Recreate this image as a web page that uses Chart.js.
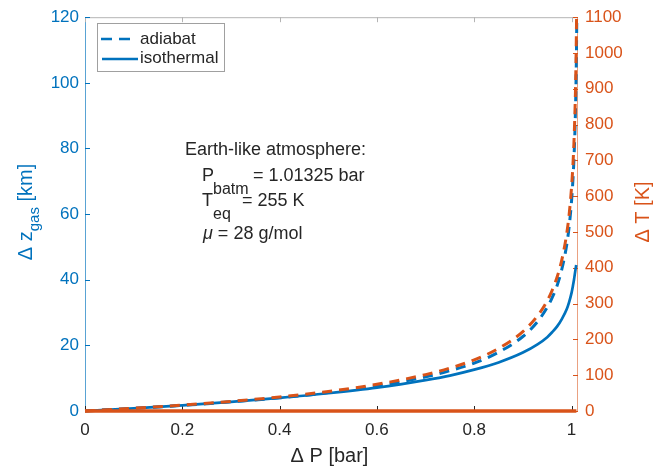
<!DOCTYPE html>
<html><head><meta charset="utf-8">
<script src="https://cdn.jsdelivr.net/npm/chart.js@4.4.1/dist/chart.umd.min.js"></script>
<style>html,body{margin:0;padding:0;background:#fff;}canvas{display:block;}</style>
</head><body>
<canvas id="c" width="668" height="468"></canvas>
<script>
// ---- data ----
const dP      = [0, 0.1, 0.2, 0.3, 0.4, 0.5, 0.6, 0.7, 0.75, 0.8, 0.85, 0.9, 0.93, 0.95, 0.96, 0.97, 0.98, 0.99, 0.995, 1.0, 1.003, 1.005, 1.008, 1.0096];
const zIso    = [0, 0.8, 1.7, 2.8, 4.0, 5.4, 7.1, 9.4, 10.8, 12.6, 14.8, 17.8, 20.3, 22.5, 24.0, 25.7, 28.0, 31.0, 33.2, 36.0, 38.3, 40.0, 43.0, 44.5];
const dPAdiZ  = [0, 0.1, 0.2, 0.3, 0.4, 0.5, 0.6, 0.7, 0.75, 0.8, 0.85, 0.9, 0.93, 0.95, 0.96, 0.97, 0.98, 0.99, 0.995, 1.0, 1.003, 1.005, 1.008, 1.01, 1.0108];
const zAdi    = [0, 0.8, 1.7, 2.8, 4.0, 5.6, 7.6, 10.4, 12.3, 14.6, 17.9, 22.7, 27.2, 31.6, 34.5, 38.1, 43.2, 50.6, 56.1, 64.0, 70.9, 77.1, 91.3, 108.5, 120];
const dPAdiT  = [0, 0.1, 0.2, 0.3, 0.4, 0.5, 0.6, 0.7, 0.75, 0.8, 0.85, 0.9, 0.93, 0.95, 0.96, 0.97, 0.98, 0.99, 0.995, 1.0, 1.003, 1.005, 1.008, 1.01, 1.0103];
const TAdi    = [0, 7.7, 16.5, 26.9, 39.3, 54.7, 74.5, 101.6, 119.8, 143, 174.7, 221.8, 265.8, 308, 336.7, 372.8, 422, 495, 548, 625, 692, 753, 892, 1060, 1100];
const dPIsoT  = [0, 1.01];
const TIso    = [0, 0];
const xTicks  = [0, 0.2, 0.4, 0.6, 0.8, 1];
const xTickLabels = ['0', '0.2', '0.4', '0.6', '0.8', '1'];
const zTicks  = [0, 20, 40, 60, 80, 100, 120];
const TTicks  = [0, 100, 200, 300, 400, 500, 600, 700, 800, 900, 1000, 1100];
const legendLabels = ['adiabat', 'isothermal'];

const BLUE = '#0072BD', ORANGE = '#D95319', DARK = '#262626';
const FONT = '"Liberation Sans", Arial, Helvetica, sans-serif';
const DASH = [10, 7];

function pts(xs, ys) { return xs.map((x, i) => ({ x: x, y: ys[i] })); }

function seg(ctx, x1, y1, x2, y2) { ctx.beginPath(); ctx.moveTo(x1, y1); ctx.lineTo(x2, y2); ctx.stroke(); }

const decor = {
  id: 'decor',
  beforeDatasetsDraw(chart) {
    const { ctx, chartArea: a, scales } = chart;
    ctx.save();
    ctx.lineWidth = 1;
    ctx.strokeStyle = '#b4b4b4';
    seg(ctx, a.left, a.top + 0.5, a.right, a.top + 0.5);
    ctx.strokeStyle = DARK;
    seg(ctx, a.left, a.bottom + 0.5, a.right, a.bottom + 0.5);
    ctx.strokeStyle = 'rgba(0,114,189,0.65)';
    seg(ctx, a.left + 0.5, a.top, a.left + 0.5, a.bottom);
    ctx.strokeStyle = 'rgba(217,83,25,0.55)';
    seg(ctx, a.right - 0.5, a.top, a.right - 0.5, a.bottom);
    const TL = 5;
    xTicks.forEach(v => {
      const px = Math.round(scales.x.getPixelForValue(v)) + 0.5;
      ctx.strokeStyle = DARK; seg(ctx, px, a.bottom, px, a.bottom - TL);
      ctx.strokeStyle = '#b4b4b4'; seg(ctx, px, a.top, px, a.top + TL);
    });
    ctx.strokeStyle = BLUE;
    zTicks.forEach(v => {
      const py = Math.round(scales.y.getPixelForValue(v)) + 0.5;
      seg(ctx, a.left, py, a.left + TL, py);
    });
    ctx.strokeStyle = ORANGE;
    TTicks.forEach(v => {
      const py = Math.round(scales.y2.getPixelForValue(v)) + 0.5;
      seg(ctx, a.right, py, a.right - TL, py);
    });
    ctx.restore();
  },
  afterDraw(chart) {
    const { ctx, chartArea: a } = chart;
    ctx.save();
    ctx.fillStyle = DARK;
    ctx.font = '20px ' + FONT;
    ctx.textAlign = 'center';
    ctx.textBaseline = 'middle';
    ctx.fillText('\u0394 P [bar]', (a.left + a.right) / 2 - 2, 456);

    ctx.save();
    ctx.translate(26, 212);
    ctx.rotate(-Math.PI / 2);
    ctx.fillStyle = BLUE;
    ctx.textAlign = 'left';
    ctx.textBaseline = 'middle';
    const big = '20px ' + FONT, small = '15px ' + FONT;
    ctx.font = big; const w1 = ctx.measureText('\u0394 z').width;
    ctx.font = small; const w2 = ctx.measureText('gas').width;
    ctx.font = big; const w3 = ctx.measureText(' [km]').width;
    let sx = -(w1 + w2 + w3) / 2;
    ctx.font = big; ctx.fillText('\u0394 z', sx, 0); sx += w1;
    ctx.font = small; ctx.fillText('gas', sx, 9); sx += w2;
    ctx.font = big; ctx.fillText(' [km]', sx, 0);
    ctx.restore();

    ctx.save();
    ctx.translate(643, 212);
    ctx.rotate(-Math.PI / 2);
    ctx.fillStyle = ORANGE;
    ctx.font = '20px ' + FONT;
    ctx.textAlign = 'center';
    ctx.textBaseline = 'middle';
    ctx.fillText('\u0394 T [K]', 0, 0);
    ctx.restore();

    ctx.fillStyle = '#fff';
    ctx.fillRect(97, 23, 127, 48);
    ctx.strokeStyle = '#a0a0a0';
    ctx.lineWidth = 1;
    ctx.strokeRect(97.5, 23.5, 127, 48);
    ctx.strokeStyle = BLUE;
    ctx.lineWidth = 2.7;
    ctx.setLineDash([11, 7]);
    seg(ctx, 101, 39, 130, 39);
    ctx.setLineDash([]);
    seg(ctx, 102, 59, 138, 59);
    ctx.fillStyle = DARK;
    ctx.font = '17px ' + FONT;
    ctx.textAlign = 'left';
    ctx.textBaseline = 'middle';
    ctx.fillText(legendLabels[0], 140, 39);
    ctx.fillText(legendLabels[1], 140, 58);

    ctx.textBaseline = 'alphabetic';
    ctx.font = '18px ' + FONT;
    ctx.fillText('Earth-like atmosphere:', 185, 155);
    ctx.fillText('P', 202, 181);
    ctx.font = '16px ' + FONT;
    ctx.fillText('batm', 213, 194);
    ctx.font = '18px ' + FONT;
    ctx.fillText('= 1.01325 bar', 253, 181);
    ctx.fillText('T', 202, 206);
    ctx.font = '16px ' + FONT;
    ctx.fillText('eq', 213, 219);
    ctx.font = '18px ' + FONT;
    ctx.fillText('= 255 K', 242, 206);
    ctx.font = 'italic 18px ' + FONT;
    ctx.fillText('\u03bc', 203, 239);
    const wm = ctx.measureText('\u03bc').width;
    ctx.font = '18px ' + FONT;
    ctx.fillText(' = 28 g/mol', 203 + wm, 239);
    ctx.restore();
  }
};

new Chart(document.getElementById('c'), {
  type: 'line',
  data: {
    datasets: [
      { label: 'adiabat T', data: pts(dPAdiT, TAdi), yAxisID: 'y2', borderColor: ORANGE, borderWidth: 3, borderDash: DASH, pointRadius: 0, cubicInterpolationMode: 'monotone', fill: false, clip: 6 },
      { label: 'isothermal T', data: pts(dPIsoT, TIso), yAxisID: 'y2', borderColor: ORANGE, borderWidth: 3.4, pointRadius: 0, fill: false, clip: 6 },
      { label: 'adiabat z', data: pts(dPAdiZ, zAdi), yAxisID: 'y', borderColor: BLUE, borderWidth: 3, borderDash: DASH, pointRadius: 0, cubicInterpolationMode: 'monotone', fill: false, clip: 6 },
      { label: 'isothermal z', data: pts(dP, zIso), yAxisID: 'y', borderColor: BLUE, borderWidth: 2.7, pointRadius: 0, cubicInterpolationMode: 'monotone', fill: false, clip: 6 }
    ]
  },
  options: {
    responsive: false,
    animation: false,
    layout: { padding: { top: 13, left: 0, right: 0, bottom: 0 } },
    plugins: { legend: { display: false }, tooltip: { enabled: false } },
    scales: {
      x: {
        type: 'linear', min: 0, max: 1.01325,
        afterBuildTicks: s => { s.ticks = xTicks.map(v => ({ value: v })); },
        afterFit: s => { s.height = 57; },
        ticks: { color: DARK, font: { family: FONT, size: 17 }, padding: 9, maxRotation: 0, autoSkip: false,
          callback: v => xTickLabels[xTicks.indexOf(v)] },
        grid: { display: false, drawTicks: false },
        border: { display: false }
      },
      y: {
        position: 'left', min: 0, max: 120,
        afterBuildTicks: s => { s.ticks = zTicks.map(v => ({ value: v })); },
        afterFit: s => { s.width = 85; },
        ticks: { color: BLUE, font: { family: FONT, size: 17 }, padding: 6, autoSkip: false, callback: v => String(v) },
        grid: { display: false, drawTicks: false },
        border: { display: false }
      },
      y2: {
        position: 'right', min: 0, max: 1100,
        afterBuildTicks: s => { s.ticks = TTicks.map(v => ({ value: v })); },
        afterFit: s => { s.width = 90; },
        ticks: { color: ORANGE, font: { family: FONT, size: 17 }, padding: 7, autoSkip: false, callback: v => String(v) },
        grid: { display: false, drawTicks: false },
        border: { display: false }
      }
    }
  },
  plugins: [decor]
});
</script>
</body></html>
